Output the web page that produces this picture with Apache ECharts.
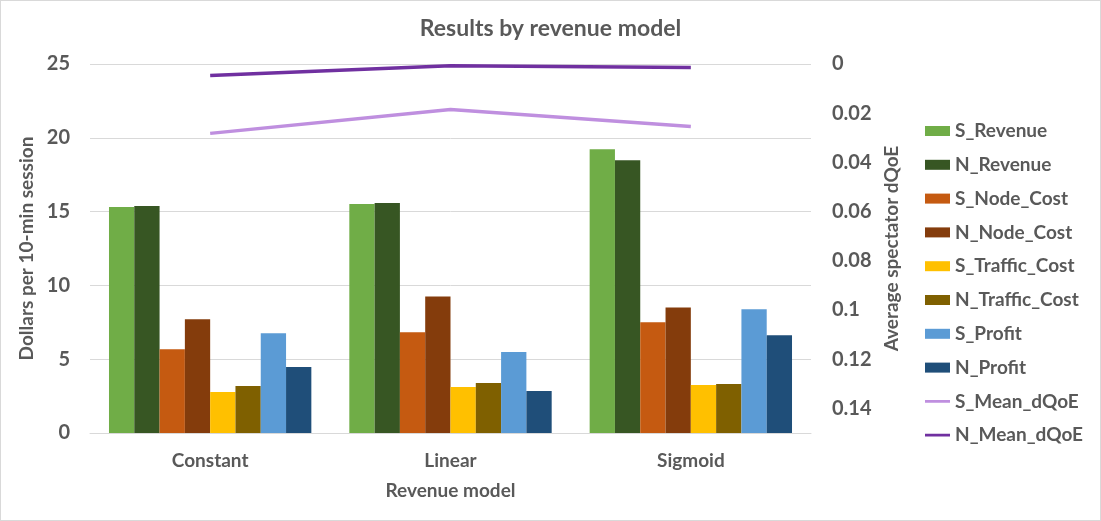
<!DOCTYPE html>
<html>
<head>
<meta charset="utf-8">
<script src="https://cdn.jsdelivr.net/npm/echarts@6/dist/echarts.min.js"></script>
<style>
  html, body { margin: 0; padding: 0; background: #fff; }
  #chart { width: 1101px; height: 521px; box-sizing: border-box; border: 1px solid #d9d9d9; }
</style>
</head>
<body>
<div id="chart"></div>
<script>
// data
const categories = ['Constant', 'Linear', 'Sigmoid'];

const sRevenue = [15.32, 15.52, 19.22];
const nRevenue = [15.38, 15.59, 18.48];
const sNodeCost = [5.68, 6.83, 7.50];
const nNodeCost = [7.70, 9.25, 8.51];
const sTrafficCost = [2.78, 3.12, 3.25];
const nTrafficCost = [3.19, 3.39, 3.32];
const sProfit = [6.76, 5.48, 8.38];
const nProfit = [4.47, 2.85, 6.62];

const sMeanDQoE = [0.0282, 0.0185, 0.0254];
const nMeanDQoE = [0.0047, 0.0007, 0.0014];

const textColor = '#595959';
const font = 'Lato';

const bars = [
  { name: 'S_Revenue', data: sRevenue, color: '#70AD47' },
  { name: 'N_Revenue', data: nRevenue, color: '#375623' },
  { name: 'S_Node_Cost', data: sNodeCost, color: '#C55A11' },
  { name: 'N_Node_Cost', data: nNodeCost, color: '#843C0C' },
  { name: 'S_Traffic_Cost', data: sTrafficCost, color: '#FFC000' },
  { name: 'N_Traffic_Cost', data: nTrafficCost, color: '#7F6000' },
  { name: 'S_Profit', data: sProfit, color: '#5B9BD5' },
  { name: 'N_Profit', data: nProfit, color: '#1F4E79' }
];

const lines = [
  { name: 'S_Mean_dQoE', data: sMeanDQoE, color: '#BF8FDF' },
  { name: 'N_Mean_dQoE', data: nMeanDQoE, color: '#7030A0' }
];

// thin bar icon for line series in the legend
const lineIcon = 'path://M0 3.6 H25 V6.4 H0 Z M0 0 H0.01 V10 H0 Z';

const series = bars.map(b => ({
  name: b.name,
  type: 'bar',
  yAxisIndex: 0,
  data: b.data,
  barGap: 0,
  barCategoryGap: '15.8%',
  itemStyle: { color: b.color }
})).concat(lines.map(l => ({
  name: l.name,
  type: 'line',
  yAxisIndex: 1,
  data: l.data,
  symbol: 'none',
  lineStyle: { color: l.color, width: 3.5 },
  itemStyle: { color: l.color }
})));

const legendData = bars.map(b => ({ name: b.name, icon: 'rect' }))
  .concat(lines.map(l => ({ name: l.name, icon: lineIcon })));

const chart = echarts.init(document.getElementById('chart'));
chart.setOption({
  animation: false,
  textStyle: { fontFamily: font },
  title: {
    text: 'Results by revenue model',
    left: 'center',
    top: 11,
    textStyle: { color: textColor, fontSize: 23, fontWeight: 'bold', fontFamily: font }
  },
  legend: {
    orient: 'vertical',
    left: 924,
    top: 120,
    padding: 0,
    itemWidth: 25,
    itemHeight: 10,
    itemGap: 13.8,
    symbolKeepAspect: false,
    textStyle: { color: textColor, fontSize: 19, fontWeight: 'bold', fontFamily: font, lineHeight: 20 },
    data: legendData
  },
  grid: { left: 89, right: 289, top: 63, bottom: 87 },
  xAxis: {
    type: 'category',
    data: categories,
    name: 'Revenue model',
    nameLocation: 'middle',
    nameGap: 48,
    nameTextStyle: { color: textColor, fontSize: 19, fontWeight: 'bold', fontFamily: font },
    axisLine: { lineStyle: { color: '#d9d9d9' } },
    axisTick: { show: false },
    axisLabel: { color: textColor, fontSize: 19, fontWeight: 'bold', fontFamily: font, margin: 18 }
  },
  yAxis: [
    {
      type: 'value',
      min: 0,
      max: 25,
      interval: 5,
      name: 'Dollars per 10-min session',
      nameLocation: 'middle',
      nameGap: 48,
      nameTextStyle: { color: textColor, fontSize: 19, fontWeight: 'bold', fontFamily: font },
      axisLine: { show: false },
      axisTick: { show: false },
      splitLine: { lineStyle: { color: '#d9d9d9' } },
      axisLabel: { color: textColor, fontSize: 20, fontWeight: 'bold', fontFamily: font, margin: 20 }
    },
    {
      type: 'value',
      inverse: true,
      min: 0,
      max: 0.15,
      interval: 0.02,
      name: 'Average spectator dQoE',
      nameLocation: 'middle',
      nameGap: 70,
      nameTextStyle: { color: textColor, fontSize: 19, fontWeight: 'bold', fontFamily: font },
      axisLine: { show: false },
      axisTick: { show: false },
      splitLine: { show: false },
      axisLabel: {
        color: textColor, fontSize: 20, fontWeight: 'bold', fontFamily: font, margin: 21,
        showMaxLabel: false,
        formatter: v => (Math.round(v * 100) / 100).toString()
      }
    }
  ],
  series
});
</script>
</body>
</html>
